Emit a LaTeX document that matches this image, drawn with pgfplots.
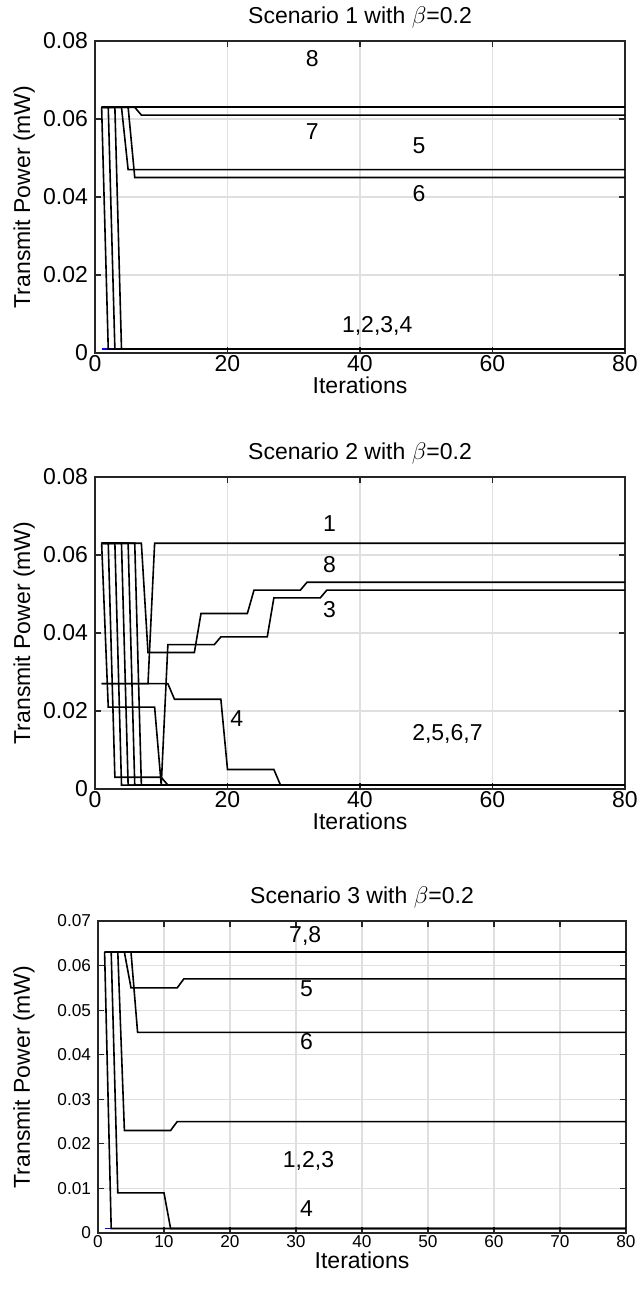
\documentclass[border=0pt]{standalone}
\usepackage{fontspec}
\setmainfont{Liberation Sans}
\usepackage{pgfplots}
\pgfplotsset{compat=1.18}
\definecolor{axc}{RGB}{38,38,38}
\definecolor{gridc}{RGB}{223,223,223}
\newcommand{\bigf}{\fontsize{11.5}{13}\selectfont}
\newcommand{\smf}{\fontsize{8.6}{10}\selectfont}
\pgfplotsset{
  ln/.style={black, solid, line width=0.8pt, mark=none},
  lb/.style={blue, solid, line width=0.8pt, mark=none},
  mystyle/.style={
    scale only axis,
    width=265pt, height=156pt,
    xmin=0, xmax=80,
    scaled x ticks=false, scaled y ticks=false,
    axis line style={axc, line width=0.75pt},
    tick style={axc, line width=0.6pt},
    major tick length=3pt,
    tick align=inside,
    xtick pos=both, ytick pos=both,
    grid=major,
    major grid style={gridc, line width=0.6pt},
    tick label style={font=\bigf, text=black},
    xticklabel style={yshift=2.5pt},
    label style={font=\bigf},
    title style={font=\bigf, at={(axis description cs:0.5,1)}, anchor=base, yshift=2.5pt},
    xlabel style={at={(axis description cs:0.5,0)}, anchor=base, yshift=-20.5pt},
    ylabel style={at={(axis description cs:-0.1226,0.5)}, anchor=base},
    xlabel={Iterations},
    ylabel={Transmit Power (mW)},
  }
}
\begin{document}
\begin{tikzpicture}
\useasboundingbox (0,0) rectangle (321pt,646.5pt);
% ---------------- Panel 1
\begin{axis}[mystyle, at={(47.5pt,470pt)}, anchor=south west,
  ymin=0, ymax=0.08,
  xtick={0,20,40,60,80}, xticklabels={0,20,40,60,80},
  ytick={0,0.02,0.04,0.06,0.08}, yticklabels={0,0.02,0.04,0.06,0.08},
  title={Scenario 1 with $\beta$=0.2}]
\addplot[lb] coordinates {(1,0.001)(80,0.001)};
\addplot[ln] coordinates {(1,0.063)(2,0.001)(80,0.001)};
\addplot[ln] coordinates {(1,0.063)(2,0.063)(3,0.001)(80,0.001)};
\addplot[ln] coordinates {(1,0.063)(3,0.063)(4,0.001)(80,0.001)};
\addplot[ln] coordinates {(1,0.063)(4,0.063)(5,0.047)(80,0.047)};
\addplot[ln] coordinates {(1,0.063)(5,0.063)(6,0.045)(80,0.045)};
\addplot[ln] coordinates {(1,0.063)(6,0.063)(7,0.061)(80,0.061)};
\addplot[ln] coordinates {(1,0.063)(80,0.063)};
\node[font=\bigf] at (axis cs:32.8,0.0756) {8};
\node[font=\bigf] at (axis cs:32.8,0.0567) {7};
\node[font=\bigf] at (axis cs:48.9,0.0531) {5};
\node[font=\bigf] at (axis cs:48.9,0.0408) {6};
\node[font=\bigf] at (axis cs:42.6,0.0069) {1,2,3,4};
\end{axis}
% ---------------- Panel 2
\begin{axis}[mystyle, at={(47.5pt,252pt)}, anchor=south west,
  ymin=0, ymax=0.08,
  xtick={0,20,40,60,80}, xticklabels={0,20,40,60,80},
  ytick={0,0.02,0.04,0.06,0.08}, yticklabels={0,0.02,0.04,0.06,0.08},
  title={Scenario 2 with $\beta$=0.2}]
\addplot[ln] coordinates {(1,0.063)(2,0.063)(3,0.003)(10,0.003)(11,0.001)(80,0.001)};
\addplot[ln] coordinates {(1,0.063)(3,0.063)(4,0.001)(80,0.001)};
\addplot[ln] coordinates {(1,0.063)(4,0.063)(5,0.001)(80,0.001)};
\addplot[ln] coordinates {(1,0.063)(5,0.063)(6,0.001)(80,0.001)};
\addplot[ln] coordinates {(1,0.063)(6,0.063)(7,0.001)(80,0.001)};
\addplot[ln] coordinates {(1,0.027)(11,0.027)(12,0.023)(19,0.023)(20,0.005)(27,0.005)(28,0.001)(80,0.001)};
\addplot[ln] coordinates {(1,0.063)(2,0.021)(9,0.021)(10,0.001)(11,0.037)(18,0.037)(19,0.039)(26,0.039)(27,0.049)(34,0.049)(35,0.051)(80,0.051)};
\addplot[ln] coordinates {(1,0.063)(7,0.063)(8,0.035)(15,0.035)(16,0.045)(23,0.045)(24,0.051)(31,0.051)(32,0.053)(80,0.053)};
\addplot[ln] coordinates {(1,0.027)(8,0.027)(9,0.063)(80,0.063)};
\node[font=\bigf] at (axis cs:35.4,0.068) {1};
\node[font=\bigf] at (axis cs:35.4,0.0576) {8};
\node[font=\bigf] at (axis cs:35.4,0.0459) {3};
\node[font=\bigf] at (axis cs:21.4,0.0181) {4};
\node[font=\bigf] at (axis cs:53.2,0.014) {2,5,6,7};
\end{axis}
% ---------------- Panel 3
\begin{axis}[mystyle, at={(49pt,30pt)}, anchor=south west,
  width=264pt,
  ymin=0, ymax=0.07,
  xtick={0,10,20,30,40,50,60,70,80}, xticklabels={0,10,20,30,40,50,60,70,80},
  ytick={0,0.01,0.02,0.03,0.04,0.05,0.06,0.07},
  yticklabels={0,0.01,0.02,0.03,0.04,0.05,0.06,0.07},
  tick label style={font=\smf, text=black},
  xlabel style={yshift=3pt},
  ylabel style={at={(axis description cs:-0.1288,0.5)}},
  title={Scenario 3 with $\beta$=0.2}]
\addplot[lb] coordinates {(1,0.001)(80,0.001)};
\addplot[ln] coordinates {(1,0.063)(2,0.001)(80,0.001)};
\addplot[ln] coordinates {(1,0.063)(2,0.063)(3,0.009)(10,0.009)(11,0.001)(80,0.001)};
\addplot[ln] coordinates {(1,0.063)(3,0.063)(4,0.023)(11,0.023)(12,0.025)(80,0.025)};
\addplot[ln] coordinates {(1,0.063)(4,0.063)(5,0.055)(12,0.055)(13,0.057)(80,0.057)};
\addplot[ln] coordinates {(1,0.063)(5,0.063)(6,0.045)(80,0.045)};
\addplot[ln] coordinates {(1,0.063)(80,0.063)};
\addplot[ln] coordinates {(1,0.063)(80,0.063)};
\node[font=\bigf] at (axis cs:31.4,0.0666) {7,8};
\node[font=\bigf] at (axis cs:31.6,0.0549) {5};
\node[font=\bigf] at (axis cs:31.6,0.0429) {6};
\node[font=\bigf] at (axis cs:31.9,0.0161) {1,2,3};
\node[font=\bigf] at (axis cs:31.6,0.0055) {4};
\end{axis}
\end{tikzpicture}
\end{document}
